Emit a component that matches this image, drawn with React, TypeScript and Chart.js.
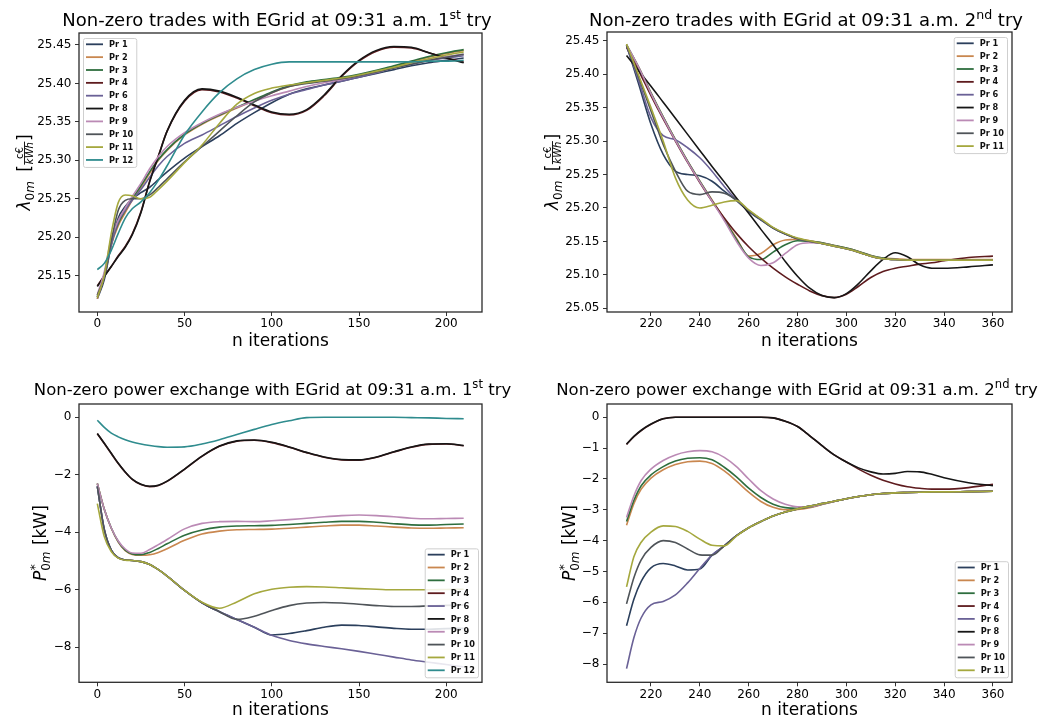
import React, { useEffect, useRef } from "react";
import { Chart, registerables } from "chart.js";

Chart.register(...registerables);

const FONT = '"DejaVu Sans", "Liberation Sans", sans-serif';

// ---------- names & colours ----------
const names10 = ["Pr 1", "Pr 2", "Pr 3", "Pr 4", "Pr 6", "Pr 8", "Pr 9", "Pr 10", "Pr 11", "Pr 12"];
const names9 = ["Pr 1", "Pr 2", "Pr 3", "Pr 4", "Pr 6", "Pr 8", "Pr 9", "Pr 10", "Pr 11"];

const COLORS: Record<string, string> = {
  "Pr 1": "#2b3f5c",
  "Pr 2": "#c9874f",
  "Pr 3": "#2e6e3e",
  "Pr 4": "#5e1b1e",
  "Pr 6": "#6a6196",
  "Pr 8": "#161616",
  "Pr 9": "#bb8ab5",
  "Pr 10": "#4f5459",
  "Pr 11": "#a5a83e",
  "Pr 12": "#2f8c8e",
};

// ---------- tick labels ----------
const xTicks1 = [0, 50, 100, 150, 200];
const xTicks2 = [220, 240, 260, 280, 300, 320, 340, 360];
const yTicksLam1 = [25.15, 25.2, 25.25, 25.3, 25.35, 25.4, 25.45];
const yTicksLam2 = [25.05, 25.1, 25.15, 25.2, 25.25, 25.3, 25.35, 25.4, 25.45];
const yTicksP1 = [0, -2, -4, -6, -8];
const yTicksP2 = [0, -1, -2, -3, -4, -5, -6, -7, -8];

// ---------- panel 1: lambda, 1st try ----------
const X1 = [0, 4, 8, 12, 16, 20, 25, 30, 35, 40, 50, 60, 70, 80, 90, 100, 110, 120, 130, 140, 150, 160, 170, 180, 190, 200, 210];

const lam1Pr1 = [25.120, 25.145, 25.190, 25.225, 25.240, 25.250, 25.258, 25.265, 25.275, 25.285, 25.303, 25.318, 25.332, 25.348, 25.362, 25.375, 25.386, 25.393, 25.398, 25.403, 25.408, 25.413, 25.418, 25.423, 25.427, 25.430, 25.433];
const lam1Pr2 = [25.120, 25.150, 25.190, 25.215, 25.232, 25.248, 25.265, 25.283, 25.300, 25.313, 25.333, 25.347, 25.358, 25.368, 25.378, 25.388, 25.396, 25.401, 25.404, 25.407, 25.411, 25.416, 25.422, 25.428, 25.434, 25.439, 25.443];
const lam1Pr3 = [25.122, 25.152, 25.193, 25.218, 25.235, 25.250, 25.267, 25.285, 25.301, 25.314, 25.334, 25.348, 25.359, 25.369, 25.379, 25.389, 25.397, 25.402, 25.405, 25.408, 25.412, 25.417, 25.423, 25.429, 25.435, 25.440, 25.444];
const lam1Pr4 = [25.137, 25.150, 25.162, 25.176, 25.188, 25.204, 25.233, 25.273, 25.306, 25.338, 25.377, 25.392, 25.389, 25.381, 25.371, 25.362, 25.359, 25.365, 25.384, 25.409, 25.429, 25.442, 25.447, 25.446, 25.440, 25.433, 25.428];
const lam1Pr6 = [25.123, 25.150, 25.190, 25.220, 25.235, 25.248, 25.262, 25.278, 25.293, 25.305, 25.322, 25.333, 25.345, 25.357, 25.368, 25.378, 25.386, 25.392, 25.398, 25.403, 25.408, 25.414, 25.420, 25.425, 25.430, 25.433, 25.436];
const lam1Pr8 = [25.136, 25.149, 25.162, 25.175, 25.187, 25.203, 25.232, 25.272, 25.305, 25.338, 25.378, 25.393, 25.390, 25.382, 25.372, 25.363, 25.360, 25.366, 25.385, 25.410, 25.430, 25.443, 25.448, 25.447, 25.440, 25.433, 25.427];
const lam1Pr9 = [25.125, 25.155, 25.198, 25.222, 25.238, 25.253, 25.270, 25.289, 25.305, 25.318, 25.336, 25.349, 25.360, 25.369, 25.377, 25.384, 25.390, 25.396, 25.401, 25.405, 25.410, 25.415, 25.420, 25.426, 25.431, 25.435, 25.438];
const lam1Pr10 = [25.125, 25.148, 25.195, 25.235, 25.248, 25.250, 25.250, 25.255, 25.265, 25.276, 25.298, 25.318, 25.338, 25.358, 25.376, 25.388, 25.396, 25.400, 25.403, 25.406, 25.410, 25.415, 25.420, 25.425, 25.430, 25.434, 25.438];
const lam1Pr11 = [25.122, 25.150, 25.205, 25.245, 25.255, 25.254, 25.250, 25.252, 25.262, 25.273, 25.297, 25.320, 25.348, 25.373, 25.387, 25.394, 25.398, 25.401, 25.404, 25.407, 25.411, 25.416, 25.421, 25.427, 25.432, 25.437, 25.441];
const lam1Pr12 = [25.158, 25.166, 25.183, 25.205, 25.225, 25.237, 25.246, 25.258, 25.274, 25.293, 25.333, 25.363, 25.388, 25.406, 25.418, 25.425, 25.428, 25.428, 25.428, 25.428, 25.428, 25.428, 25.428, 25.428, 25.429, 25.429, 25.430];

// ---------- panel 2: lambda, 2nd try ----------
const X2 = [210, 215, 220, 225, 230, 235, 240, 245, 250, 255, 260, 265, 270, 275, 280, 285, 290, 295, 300, 305, 310, 315, 320, 325, 330, 335, 340, 350, 360];

const lam2Pr1 = [25.443, 25.385, 25.325, 25.280, 25.255, 25.250, 25.248, 25.240, 25.225, 25.211, 25.195, 25.182, 25.170, 25.161, 25.154, 25.150, 25.147, 25.143, 25.139, 25.134, 25.128, 25.124, 25.123, 25.122, 25.122, 25.122, 25.122, 25.122, 25.122];
const lam2Pr2 = [25.443, 25.410, 25.372, 25.336, 25.302, 25.270, 25.240, 25.212, 25.184, 25.155, 25.128, 25.132, 25.145, 25.152, 25.153, 25.151, 25.148, 25.144, 25.140, 25.135, 25.129, 25.125, 25.124, 25.123, 25.123, 25.123, 25.123, 25.123, 25.123];
const lam2Pr3 = [25.444, 25.410, 25.372, 25.336, 25.302, 25.270, 25.240, 25.211, 25.183, 25.153, 25.127, 25.123, 25.134, 25.145, 25.151, 25.150, 25.148, 25.144, 25.140, 25.135, 25.129, 25.125, 25.123, 25.122, 25.122, 25.122, 25.122, 25.122, 25.122];
const lam2Pr4 = [25.440, 25.405, 25.368, 25.333, 25.300, 25.268, 25.238, 25.210, 25.185, 25.162, 25.142, 25.125, 25.110, 25.097, 25.086, 25.076, 25.069, 25.066, 25.071, 25.083, 25.096, 25.105, 25.110, 25.113, 25.116, 25.118, 25.121, 25.126, 25.128];
const lam2Pr6 = [25.443, 25.390, 25.335, 25.308, 25.302, 25.290, 25.275, 25.255, 25.232, 25.212, 25.196, 25.183, 25.170, 25.161, 25.154, 25.150, 25.147, 25.143, 25.139, 25.134, 25.128, 25.124, 25.123, 25.122, 25.122, 25.122, 25.122, 25.122, 25.122];
const lam2Pr8 = [25.428, 25.405, 25.382, 25.358, 25.334, 25.310, 25.286, 25.262, 25.239, 25.215, 25.192, 25.168, 25.145, 25.120, 25.098, 25.080, 25.069, 25.066, 25.072, 25.087, 25.106, 25.123, 25.133, 25.127, 25.115, 25.110, 25.110, 25.112, 25.115];
const lam2Pr9 = [25.444, 25.410, 25.371, 25.335, 25.301, 25.269, 25.239, 25.210, 25.181, 25.150, 25.125, 25.114, 25.118, 25.132, 25.145, 25.148, 25.147, 25.143, 25.139, 25.134, 25.128, 25.124, 25.123, 25.122, 25.122, 25.122, 25.122, 25.122, 25.122];
const lam2Pr10 = [25.443, 25.395, 25.345, 25.295, 25.255, 25.225, 25.220, 25.224, 25.222, 25.212, 25.196, 25.183, 25.170, 25.161, 25.154, 25.150, 25.147, 25.143, 25.139, 25.134, 25.128, 25.124, 25.123, 25.122, 25.122, 25.122, 25.122, 25.122, 25.122];
const lam2Pr11 = [25.445, 25.398, 25.350, 25.300, 25.245, 25.212, 25.200, 25.204, 25.209, 25.211, 25.197, 25.184, 25.171, 25.162, 25.155, 25.151, 25.147, 25.143, 25.139, 25.134, 25.128, 25.124, 25.123, 25.122, 25.122, 25.122, 25.122, 25.122, 25.122];

// ---------- panel 3: power, 1st try ----------
const pow1Pr1 = [-2.4, -3.9, -4.62, -4.88, -4.96, -4.98, -5.02, -5.12, -5.3, -5.52, -6.02, -6.45, -6.76, -7.03, -7.3, -7.57, -7.52, -7.42, -7.3, -7.23, -7.24, -7.29, -7.34, -7.37, -7.37, -7.35, -7.34];
const pow1Pr2 = [-2.3, -3.2, -3.86, -4.34, -4.64, -4.77, -4.8, -4.78, -4.7, -4.57, -4.28, -4.06, -3.96, -3.91, -3.9, -3.89, -3.86, -3.82, -3.78, -3.75, -3.75, -3.78, -3.82, -3.85, -3.86, -3.85, -3.84];
const pow1Pr3 = [-2.3, -3.2, -3.85, -4.32, -4.62, -4.75, -4.78, -4.7, -4.56, -4.4, -4.1, -3.92, -3.82, -3.78, -3.77, -3.76, -3.73, -3.69, -3.65, -3.62, -3.62, -3.65, -3.7, -3.74, -3.75, -3.73, -3.71];
const pow1Pr4 = [-0.57, -0.91, -1.26, -1.61, -1.91, -2.16, -2.34, -2.41, -2.37, -2.23, -1.81, -1.36, -1.01, -0.83, -0.8, -0.88, -1.04, -1.23, -1.39, -1.48, -1.49, -1.39, -1.21, -1.04, -0.94, -0.93, -0.99];
const pow1Pr6 = [-2.4, -3.9, -4.62, -4.88, -4.96, -4.98, -5.02, -5.12, -5.3, -5.52, -6.02, -6.45, -6.76, -7.03, -7.3, -7.58, -7.76, -7.88, -7.97, -8.05, -8.14, -8.24, -8.34, -8.44, -8.52, -8.6, -8.68];
const pow1Pr8 = [-0.56, -0.9, -1.25, -1.6, -1.9, -2.15, -2.33, -2.4, -2.36, -2.22, -1.8, -1.35, -1.0, -0.82, -0.79, -0.87, -1.03, -1.22, -1.38, -1.47, -1.48, -1.38, -1.2, -1.03, -0.93, -0.92, -0.98];
const pow1Pr9 = [-2.3, -3.2, -3.85, -4.3, -4.58, -4.72, -4.73, -4.6, -4.43, -4.25, -3.88, -3.69, -3.63, -3.62, -3.63, -3.6, -3.56, -3.51, -3.46, -3.42, -3.4, -3.42, -3.46, -3.51, -3.53, -3.52, -3.51];
const pow1Pr10 = [-2.4, -3.92, -4.63, -4.89, -4.96, -4.98, -5.02, -5.12, -5.3, -5.52, -6.02, -6.45, -6.76, -7.03, -6.92, -6.72, -6.55, -6.46, -6.44, -6.46, -6.5, -6.55, -6.58, -6.58, -6.56, -6.54, -6.53];
const pow1Pr11 = [-3.0, -4.15, -4.67, -4.9, -4.97, -4.98, -5.02, -5.12, -5.3, -5.52, -6.02, -6.43, -6.64, -6.42, -6.14, -5.98, -5.91, -5.89, -5.9, -5.93, -5.96, -5.98, -6.0, -6.0, -6.0, -5.99, -5.98];
const pow1Pr12 = [-0.1, -0.35, -0.55, -0.68, -0.78, -0.86, -0.93, -0.98, -1.02, -1.04, -1.03, -0.93, -0.78, -0.6, -0.42, -0.25, -0.12, -0.01, 0, 0, 0, 0, 0, -0.01, -0.02, -0.04, -0.05];

// ---------- panel 4: power, 2nd try ----------
const X4 = [210, 213, 216, 220, 225, 230, 235, 240, 245, 250, 255, 260, 265, 270, 275, 280, 285, 290, 295, 300, 305, 310, 315, 320, 325, 330, 335, 340, 350, 360];

const pow2Pr1 = [-6.76, -5.9, -5.32, -4.88, -4.74, -4.82, -4.95, -4.92, -4.47, -4.17, -3.84, -3.58, -3.38, -3.2, -3.07, -2.97, -2.88, -2.8, -2.72, -2.64, -2.57, -2.51, -2.47, -2.45, -2.44, -2.43, -2.42, -2.42, -2.41, -2.4];
const pow2Pr2 = [-3.5, -2.8, -2.33, -1.97, -1.7, -1.53, -1.44, -1.42, -1.5, -1.74, -2.07, -2.43, -2.73, -2.92, -3.0, -2.99, -2.93, -2.83, -2.73, -2.64, -2.57, -2.51, -2.47, -2.45, -2.44, -2.43, -2.42, -2.42, -2.41, -2.4];
const pow2Pr3 = [-3.38, -2.7, -2.22, -1.87, -1.6, -1.42, -1.33, -1.31, -1.38, -1.62, -1.93, -2.3, -2.6, -2.82, -2.93, -2.95, -2.91, -2.82, -2.73, -2.64, -2.57, -2.51, -2.47, -2.45, -2.44, -2.43, -2.42, -2.42, -2.41, -2.4];
const pow2Pr4 = [-0.88, -0.63, -0.43, -0.23, -0.05, 0, 0, 0, 0, 0, 0, 0, 0, -0.02, -0.13, -0.3, -0.6, -0.92, -1.22, -1.45, -1.68, -1.88, -2.04, -2.16, -2.25, -2.3, -2.33, -2.33, -2.28, -2.17];
const pow2Pr6 = [-8.15, -7.15, -6.5, -6.08, -5.97, -5.76, -5.37, -4.9, -4.47, -4.17, -3.84, -3.58, -3.38, -3.2, -3.07, -2.97, -2.88, -2.8, -2.72, -2.64, -2.57, -2.51, -2.47, -2.45, -2.44, -2.43, -2.42, -2.42, -2.41, -2.4];
const pow2Pr8 = [-0.87, -0.62, -0.42, -0.22, -0.05, 0, 0, 0, 0, 0, 0, 0, 0, -0.02, -0.13, -0.3, -0.6, -0.92, -1.22, -1.45, -1.64, -1.77, -1.84, -1.82, -1.76, -1.77, -1.85, -1.96, -2.12, -2.22];
const pow2Pr9 = [-3.25, -2.55, -2.05, -1.68, -1.4, -1.22, -1.12, -1.08, -1.12, -1.3, -1.6, -2.0, -2.38, -2.65, -2.82, -2.9, -2.9, -2.82, -2.73, -2.64, -2.57, -2.51, -2.47, -2.45, -2.44, -2.43, -2.42, -2.42, -2.41, -2.4];
const pow2Pr10 = [-6.05, -5.2, -4.62, -4.22, -4.0, -4.06, -4.27, -4.46, -4.47, -4.17, -3.84, -3.58, -3.38, -3.2, -3.07, -2.97, -2.88, -2.8, -2.72, -2.64, -2.57, -2.51, -2.47, -2.45, -2.44, -2.43, -2.42, -2.42, -2.41, -2.4];
const pow2Pr11 = [-5.5, -4.52, -4.05, -3.72, -3.52, -3.54, -3.7, -3.95, -4.15, -4.17, -3.85, -3.58, -3.38, -3.2, -3.07, -2.97, -2.88, -2.8, -2.72, -2.64, -2.57, -2.51, -2.47, -2.45, -2.44, -2.43, -2.42, -2.42, -2.41, -2.4];

// ---------- panel configuration ----------
type PanelCfg = {
  key: string;
  x: number; y: number; w: number; h: number;
  area: { l: number; t: number; r: number; b: number };
  xMin: number; xMax: number; yMin: number; yMax: number;
  xTicks: number[]; yTicks: number[]; yFmt: (v: number) => string;
  xs: number[]; series: number[][]; names: string[];
  title: [string, string, string]; titleSize: number; titleX: number; titleY: number;
  yLabel: "lambda" | "power"; yLabelX: number;
  xLabelY: number;
  legend: "tl" | "tr" | "br";
};

const fmtLam = (v: number) => v.toFixed(2);
const fmtPow = (v: number) => (v === 0 ? "0" : v < 0 ? "\u2212" + Math.abs(v) : String(v));

const panels: PanelCfg[] = [
  {
    key: "p1", x: 0, y: 0, w: 530, h: 360,
    area: { l: 79, t: 33, r: 482, b: 312 },
    xMin: -10.5, xMax: 220.5, yMin: 25.1028, yMax: 25.4656,
    xTicks: xTicks1, yTicks: yTicksLam1, yFmt: fmtLam,
    xs: X1, series: [lam1Pr1, lam1Pr2, lam1Pr3, lam1Pr4, lam1Pr6, lam1Pr8, lam1Pr9, lam1Pr10, lam1Pr11, lam1Pr12], names: names10,
    title: ["Non-zero trades with EGrid at 09:31 a.m. 1", "st", " try"], titleSize: 18, titleX: 277, titleY: 26,
    yLabel: "lambda", yLabelX: 24, xLabelY: 346, legend: "tl",
  },
  {
    key: "p2", x: 530, y: 0, w: 529, h: 360,
    area: { l: 77, t: 32, r: 482, b: 312 },
    xMin: 202, xMax: 367.8, yMin: 25.0445, yMax: 25.463,
    xTicks: xTicks2, yTicks: yTicksLam2, yFmt: fmtLam,
    xs: X2, series: [lam2Pr1, lam2Pr2, lam2Pr3, lam2Pr4, lam2Pr6, lam2Pr8, lam2Pr9, lam2Pr10, lam2Pr11], names: names9,
    title: ["Non-zero trades with EGrid at 09:31 a.m. 2", "nd", " try"], titleSize: 18, titleX: 276, titleY: 26,
    yLabel: "lambda", yLabelX: 22, xLabelY: 346, legend: "tr",
  },
  {
    key: "p3", x: 0, y: 360, w: 530, h: 360,
    area: { l: 79, t: 44, r: 482, b: 322.3 },
    xMin: -10.5, xMax: 220.5, yMin: -9.217, yMax: 0.463,
    xTicks: xTicks1, yTicks: yTicksP1, yFmt: fmtPow,
    xs: X1, series: [pow1Pr1, pow1Pr2, pow1Pr3, pow1Pr4, pow1Pr6, pow1Pr8, pow1Pr9, pow1Pr10, pow1Pr11, pow1Pr12], names: names10,
    title: ["Non-zero power exchange with EGrid at 09:31 a.m. 1", "st", " try"], titleSize: 16.5, titleX: 272.5, titleY: 35,
    yLabel: "power", yLabelX: 40, xLabelY: 355.3, legend: "br",
  },
  {
    key: "p4", x: 530, y: 360, w: 529, h: 360,
    area: { l: 77, t: 44, r: 482, b: 322.3 },
    xMin: 202, xMax: 367.8, yMin: -8.593, yMax: 0.431,
    xTicks: xTicks2, yTicks: yTicksP2, yFmt: fmtPow,
    xs: X4, series: [pow2Pr1, pow2Pr2, pow2Pr3, pow2Pr4, pow2Pr6, pow2Pr8, pow2Pr9, pow2Pr10, pow2Pr11], names: names9,
    title: ["Non-zero power exchange with EGrid at 09:31 a.m. 2", "nd", " try"], titleSize: 16.5, titleX: 267, titleY: 35,
    yLabel: "power", yLabelX: 39, xLabelY: 355.3, legend: "br",
  },
];

// ---------- drawing helpers ----------
function drawTitle(ctx: CanvasRenderingContext2D, cfg: PanelCfg) {
  const s = cfg.titleSize;
  const [a, sup, b] = cfg.title;
  const fMain = `${s}px ${FONT}`;
  const fSup = `${s * 0.7}px ${FONT}`;
  ctx.save();
  ctx.fillStyle = "#000";
  ctx.textAlign = "left";
  ctx.textBaseline = "alphabetic";
  ctx.font = fMain;
  const wa = ctx.measureText(a).width;
  const wb = ctx.measureText(b).width;
  ctx.font = fSup;
  const ws = ctx.measureText(sup).width;
  let x = cfg.titleX - (wa + ws + wb) / 2;
  ctx.font = fMain;
  ctx.fillText(a, x, cfg.titleY);
  x += wa;
  ctx.font = fSup;
  ctx.fillText(sup, x, cfg.titleY - s * 0.4);
  x += ws;
  ctx.font = fMain;
  ctx.fillText(b, x, cfg.titleY);
  ctx.restore();
}

function drawXLabel(ctx: CanvasRenderingContext2D, cfg: PanelCfg, cx: number) {
  ctx.save();
  ctx.fillStyle = "#000";
  ctx.font = `17px ${FONT}`;
  ctx.textAlign = "center";
  ctx.textBaseline = "alphabetic";
  ctx.fillText("n iterations", cx, cfg.xLabelY);
  ctx.restore();
}

function drawYLabel(ctx: CanvasRenderingContext2D, kind: string, cx: number, cy: number) {
  const S = 17, s = 12, f = 10;
  const big = `${S}px ${FONT}`, bigI = `italic ${S}px ${FONT}`;
  const sm = `${s}px ${FONT}`, smI = `italic ${s}px ${FONT}`;
  const fr = `${f}px ${FONT}`, frI = `italic ${f}px ${FONT}`;
  ctx.save();
  ctx.translate(cx, cy);
  ctx.rotate(-Math.PI / 2);
  ctx.fillStyle = "#000";
  ctx.strokeStyle = "#000";
  ctx.textAlign = "left";
  ctx.textBaseline = "alphabetic";
  const m = (font: string, t: string) => {
    ctx.font = font;
    return ctx.measureText(t).width;
  };
  const base = 6;
  if (kind === "lambda") {
    const wL = m(bigI, "λ"), w0 = m(sm, "0"), wm = m(smI, "m"), wsp = S * 0.55;
    const wB = m(big, "["), wN = m(fr, "c€"), wD = m(frI, "kWh"), wF = Math.max(wN, wD) + 2, wE = m(big, "]");
    const total = wL + w0 + wm + wsp + wB + wF + wE;
    let x = -total / 2;
    ctx.font = bigI; ctx.fillText("λ", x, base); x += wL;
    ctx.font = sm; ctx.fillText("0", x, base + 3.5); x += w0;
    ctx.font = smI; ctx.fillText("m", x, base + 3.5); x += wm;
    x += wsp;
    ctx.font = big; ctx.fillText("[", x, base); x += wB;
    const axisY = base - 5.5;
    ctx.font = fr; ctx.fillText("c€", x + (wF - wN) / 2, axisY - 1.8);
    ctx.font = frI; ctx.fillText("kWh", x + (wF - wD) / 2, axisY + 8.2);
    ctx.lineWidth = 0.9;
    ctx.beginPath(); ctx.moveTo(x + 0.5, axisY); ctx.lineTo(x + wF - 0.5, axisY); ctx.stroke();
    x += wF;
    ctx.font = big; ctx.fillText("]", x, base);
  } else {
    const wP = m(bigI, "P"), wStar = m(sm, "*"), w0 = m(sm, "0"), wm = m(smI, "m");
    const wSS = Math.max(wStar, w0 + wm) + 1;
    const wR = m(big, " [kW]");
    const total = wP + wSS + wR;
    let x = -total / 2;
    ctx.font = bigI; ctx.fillText("P", x, base); x += wP;
    ctx.font = sm; ctx.fillText("*", x + 0.5, base - 7);
    ctx.font = sm; ctx.fillText("0", x, base + 3.5);
    ctx.font = smI; ctx.fillText("m", x + w0, base + 3.5);
    x += wSS;
    ctx.font = big; ctx.fillText(" [kW]", x, base);
  }
  ctx.restore();
}

function drawLegend(ctx: CanvasRenderingContext2D, cfg: PanelCfg, area: any) {
  const names = cfg.names;
  const n = names.length;
  const lf = `bold 8.2px ${FONT}`;
  ctx.save();
  ctx.font = lf;
  const maxW = Math.max(...names.map((t) => ctx.measureText(t).width));
  const padL = 3, lineLen = 17, gap = 6, padR = 3, rowH = 12.85, padT = 6.3, padB = 7;
  const bw = padL + lineLen + gap + maxW + padR;
  const bh = padT + (n - 1) * rowH + padB;
  let x0 = area.left + 4, y0 = area.top + 5;
  if (cfg.legend === "tr") { x0 = area.right - 5 - bw; y0 = area.top + 5; }
  if (cfg.legend === "br") { x0 = area.right - 4 - bw; y0 = area.bottom - 5 - bh; }
  ctx.fillStyle = "rgba(255,255,255,0.85)";
  ctx.strokeStyle = "#cfcfcf";
  ctx.lineWidth = 1;
  ctx.beginPath();
  (ctx as any).roundRect(x0 + 0.5, y0 + 0.5, bw, bh, 2);
  ctx.fill();
  ctx.stroke();
  ctx.textAlign = "left";
  ctx.textBaseline = "middle";
  names.forEach((name, i) => {
    const yy = y0 + padT + i * rowH;
    ctx.strokeStyle = COLORS[name];
    ctx.lineWidth = 1.8;
    ctx.beginPath();
    ctx.moveTo(x0 + padL, yy);
    ctx.lineTo(x0 + padL + lineLen, yy);
    ctx.stroke();
    ctx.fillStyle = "#111";
    ctx.font = lf;
    ctx.fillText(name, x0 + padL + lineLen + gap, yy + 0.5);
  });
  ctx.restore();
}

const YW = 60;
const XH = 30;

function buildConfig(cfg: PanelCfg): any {
  const datasets = cfg.names.map((name, i) => ({
    label: name,
    data: cfg.xs.map((xv, j) => ({ x: xv, y: cfg.series[i][j] })),
    borderColor: COLORS[name],
    backgroundColor: COLORS[name],
    borderWidth: 1.6,
    pointRadius: 0,
    pointHoverRadius: 0,
    fill: false,
    cubicInterpolationMode: "monotone",
    order: -i,
  }));
  const decor = {
    id: "decor_" + cfg.key,
    afterDraw(chart: any) {
      const ctx: CanvasRenderingContext2D = chart.ctx;
      const a = chart.chartArea;
      ctx.save();
      ctx.strokeStyle = "#2a2a2a";
      ctx.lineWidth = 1.3;
      ctx.strokeRect(a.left, a.top, a.right - a.left, a.bottom - a.top);
      ctx.restore();
      drawLegend(ctx, cfg, a);
      drawTitle(ctx, cfg);
      drawXLabel(ctx, cfg, (a.left + a.right) / 2);
      drawYLabel(ctx, cfg.yLabel, cfg.yLabelX, (a.top + a.bottom) / 2);
    },
  };
  const tickFont = { family: FONT, size: 12 };
  return {
    type: "line",
    data: { datasets },
    options: {
      animation: false,
      responsive: false,
      maintainAspectRatio: false,
      devicePixelRatio: 1,
      events: [],
      layout: {
        padding: {
          left: cfg.area.l - YW,
          top: cfg.area.t,
          right: cfg.w - cfg.area.r,
          bottom: cfg.h - cfg.area.b - XH,
        },
      },
      scales: {
        x: {
          type: "linear",
          min: cfg.xMin,
          max: cfg.xMax,
          afterBuildTicks: (s: any) => { s.ticks = cfg.xTicks.map((v) => ({ value: v })); },
          afterFit: (s: any) => { s.height = XH; },
          grid: { display: true, drawOnChartArea: false, drawTicks: true, tickLength: 4, color: "#333", lineWidth: 1 },
          border: { display: false },
          ticks: { font: tickFont, color: "#000", padding: 1, maxRotation: 0, autoSkip: false, callback: (v: any) => String(v) },
        },
        y: {
          type: "linear",
          min: cfg.yMin,
          max: cfg.yMax,
          afterBuildTicks: (s: any) => { s.ticks = cfg.yTicks.map((v) => ({ value: v })); },
          afterFit: (s: any) => { s.width = YW; },
          grid: { display: true, drawOnChartArea: false, drawTicks: true, tickLength: 4, color: "#333", lineWidth: 1 },
          border: { display: false },
          ticks: { font: tickFont, color: "#000", padding: 3.5, autoSkip: false, callback: (v: any) => cfg.yFmt(Number(v)) },
        },
      },
      plugins: {
        legend: { display: false },
        title: { display: false },
        tooltip: { enabled: false },
      },
    },
    plugins: [decor],
  };
}

function Panel({ cfg }: { cfg: PanelCfg }) {
  const ref = useRef<HTMLCanvasElement | null>(null);
  useEffect(() => {
    const c = ref.current;
    if (!c) return;
    const chart = new Chart(c, buildConfig(cfg));
    return () => chart.destroy();
  }, [cfg]);
  return (
    <canvas
      ref={ref}
      width={cfg.w}
      height={cfg.h}
      style={{ position: "absolute", left: cfg.x, top: cfg.y, width: cfg.w, height: cfg.h }}
    />
  );
}

export default function App() {
  return (
    <div style={{ position: "absolute", left: 0, top: 0, width: 1059, height: 720, background: "#fff", overflow: "hidden" }}>
      {panels.map((p) => (
        <Panel key={p.key} cfg={p} />
      ))}
    </div>
  );
}
